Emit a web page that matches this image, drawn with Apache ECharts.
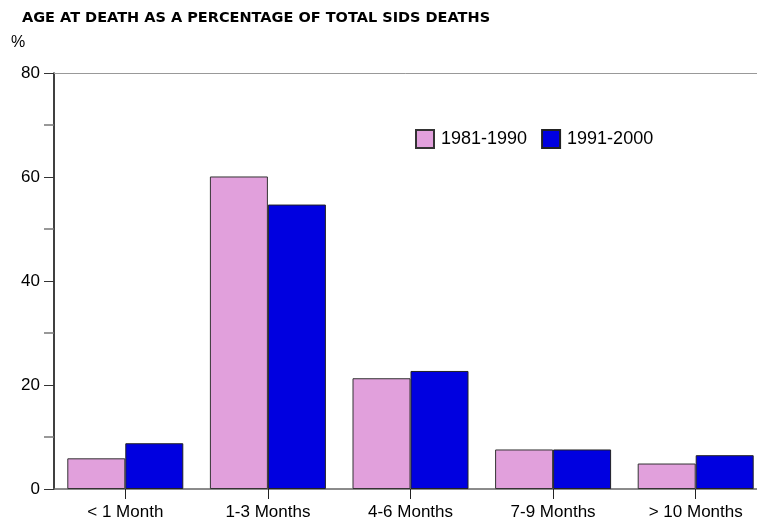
<!DOCTYPE html>
<html>
<head>
<meta charset="utf-8">
<script src="https://cdn.jsdelivr.net/npm/echarts@6/dist/echarts.min.js"></script>
<style>
  html, body { margin: 0; padding: 0; background: #fff; }
  #chart { width: 757px; height: 528px; }
</style>
</head>
<body>
<div id="chart"></div>
<script>
// categories and values
var categories = ['< 1 Month', '1-3 Months', '4-6 Months', '7-9 Months', '> 10 Months'];
var period1 = [5.9, 60.1, 21.3, 7.6, 4.9];   // 1981-1990
var period2 = [8.8, 54.7, 22.7, 7.6, 6.5];   // 1991-2000
var seriesNames = ['1981-1990', '1991-2000'];
var yTicks = [0, 20, 40, 60, 80];

var chart = echarts.init(document.getElementById('chart'));

var font = 'Liberation Sans, Arial, sans-serif';

var option = {
    animation: false,
    title: {
        text: 'AGE AT DEATH AS A PERCENTAGE OF TOTAL SIDS DEATHS',
        left: 17,
        top: 6,
        textStyle: { fontFamily: 'DejaVu Sans', fontSize: 14.5, fontWeight: 'bold', color: '#000' }
    },
    graphic: [{
        type: 'text',
        left: 11,
        top: 35,
        style: { text: '%', font: '16px ' + font, fill: '#000' }
    }],
    legend: {
        data: seriesNames,
        left: 410,
        top: 124,
        itemWidth: 18,
        itemHeight: 18,
        itemGap: 14,
        icon: 'rect',
        textStyle: { fontFamily: font, fontSize: 18, color: '#000', padding: [0, 0, 0, 2] }
    },
    grid: { left: 54, top: 73, width: 713, height: 416, outerBoundsMode: 'none' },
    xAxis: [{
        type: 'category',
        data: categories,
        axisLine: { show: true, lineStyle: { color: '#666', width: 1.5 } },
        axisTick: { show: true, alignWithLabel: true, length: 10, lineStyle: { color: '#222' } },
        axisLabel: { fontFamily: font, fontSize: 17, color: '#000', margin: 15 }
    }, {
        type: 'category',
        position: 'top',
        data: categories,
        axisLine: { show: true, lineStyle: { color: '#999', width: 1 } },
        axisTick: { show: false },
        axisLabel: { show: false }
    }],
    yAxis: {
        type: 'value',
        min: yTicks[0],
        max: yTicks[yTicks.length - 1],
        interval: 20,
        axisLine: { show: true, lineStyle: { color: '#000', width: 1.5 } },
        axisTick: { show: true, length: 10, lineStyle: { color: '#333' } },
        minorTick: { show: true, splitNumber: 2, length: 10, lineStyle: { color: '#777', width: 1.5 } },
        splitLine: { show: false },
        axisLabel: { fontFamily: font, fontSize: 17, color: '#000', margin: 14 }
    },
    series: [{
        name: seriesNames[0],
        type: 'bar',
        data: period1,
        barWidth: 58,
        barGap: '0%',
        itemStyle: { color: '#e1a0dc', borderColor: '#333', borderWidth: 1 }
    }, {
        name: seriesNames[1],
        type: 'bar',
        data: period2,
        barWidth: 58,
        itemStyle: { color: '#0000e0', borderColor: '#222', borderWidth: 1 }
    }]
};

chart.setOption(option);
</script>
</body>
</html>
